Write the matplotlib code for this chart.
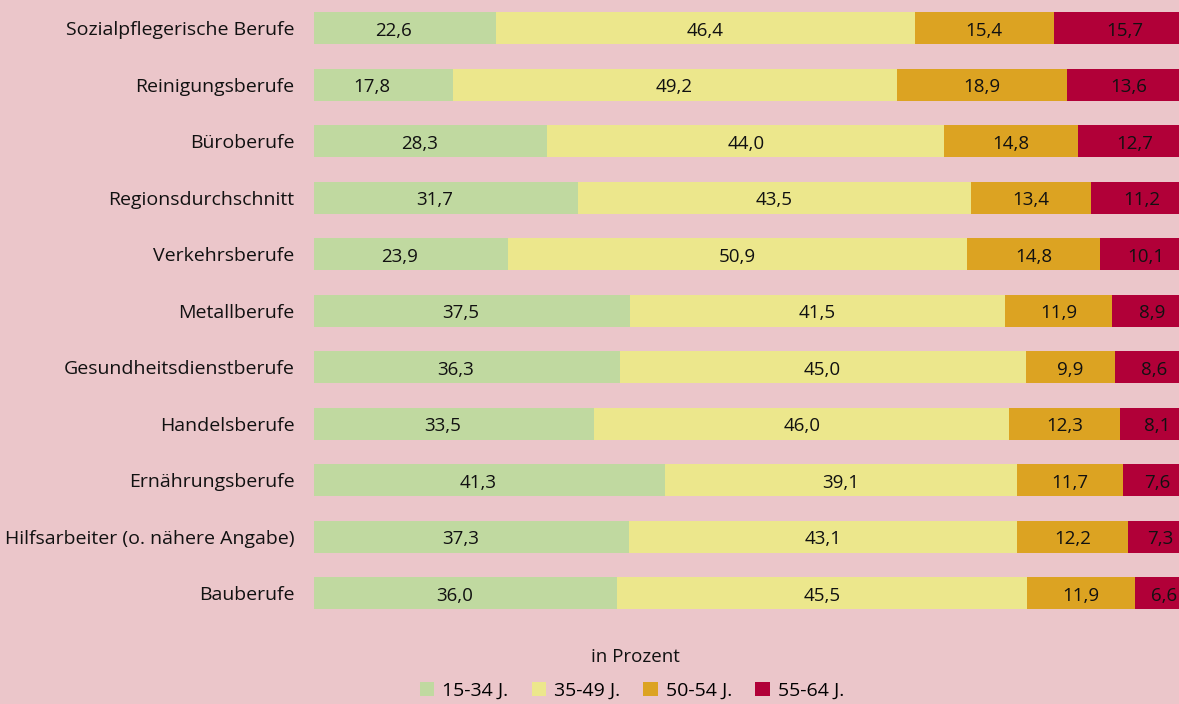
import matplotlib
matplotlib.use('Agg')
from matplotlib import pyplot as plt, rcParams
from matplotlib.patches import Patch

rcParams['font.family'] = ['Open Sans', 'DejaVu Sans']

# Daten
berufe = ['Sozialpflegerische Berufe', 'Reinigungsberufe', 'Büroberufe',
          'Regionsdurchschnitt', 'Verkehrsberufe', 'Metallberufe',
          'Gesundheitsdienstberufe', 'Handelsberufe', 'Ernährungsberufe',
          'Hilfsarbeiter (o. nähere Angabe)', 'Bauberufe']
alter_15_34 = [22.6, 17.8, 28.3, 31.7, 23.9, 37.5, 36.3, 33.5, 41.3, 37.3, 36.0]
alter_35_49 = [46.4, 49.2, 44.0, 43.5, 50.9, 41.5, 45.0, 46.0, 39.1, 43.1, 45.5]
alter_50_54 = [15.4, 18.9, 14.8, 13.4, 14.8, 11.9, 9.9, 12.3, 11.7, 12.2, 11.9]
alter_55_64 = [15.7, 13.6, 12.7, 11.2, 10.1, 8.9, 8.6, 8.1, 7.6, 7.3, 6.6]
gruppen = ['15-34 J.', '35-49 J.', '50-54 J.', '55-64 J.']

farben = ['#c0d9a0', '#ece78c', '#dca322', '#b10038']
hintergrund = '#ebc6ca'

fig = plt.figure(figsize=(11.79, 7.04), dpi=100, facecolor=hintergrund)
ax = fig.add_axes([0.2663, 0.1172, 0.7337, 0.8828], facecolor=hintergrund)

y = list(range(len(berufe)))
links = [0.0] * len(berufe)
for werte, farbe in zip([alter_15_34, alter_35_49, alter_50_54, alter_55_64], farben):
    ax.barh(y, werte, left=links, height=0.57, color=farbe, linewidth=0)
    for i, w in enumerate(werte):
        ax.text(links[i] + w / 2, i + 0.04, f'{w:.1f}'.replace('.', ','),
                ha='center', va='center', fontsize=13.5, color='#111111')
    links = [l + w for l, w in zip(links, werte)]

# Ausschnitt wie im Original (Balken links und rechts leicht abgeschnitten)
ax.set_xlim(2.44, 98.3)
ax.set_ylim(len(berufe) - 0.5, -0.5)
ax.set_yticks(y)
ax.set_yticklabels(berufe, fontsize=14, color='#111111')
ax.tick_params(axis='y', length=0, pad=14)
ax.set_xticks([])
for s in ax.spines.values():
    s.set_visible(False)

fig.text(0.539, 0.067, 'in Prozent', ha='center', va='center', fontsize=13.5, color='#111111')
griffe = [Patch(facecolor=f, edgecolor='none') for f in farben]
fig.legend(griffe, gruppen, loc='center', bbox_to_anchor=(0.536, 0.019), ncol=4,
           frameon=False, fontsize=14, handlelength=0.75, handleheight=0.75,
           handletextpad=0.4, columnspacing=1.2, borderpad=0)

plt.savefig('out.png', dpi=100, facecolor=hintergrund)
